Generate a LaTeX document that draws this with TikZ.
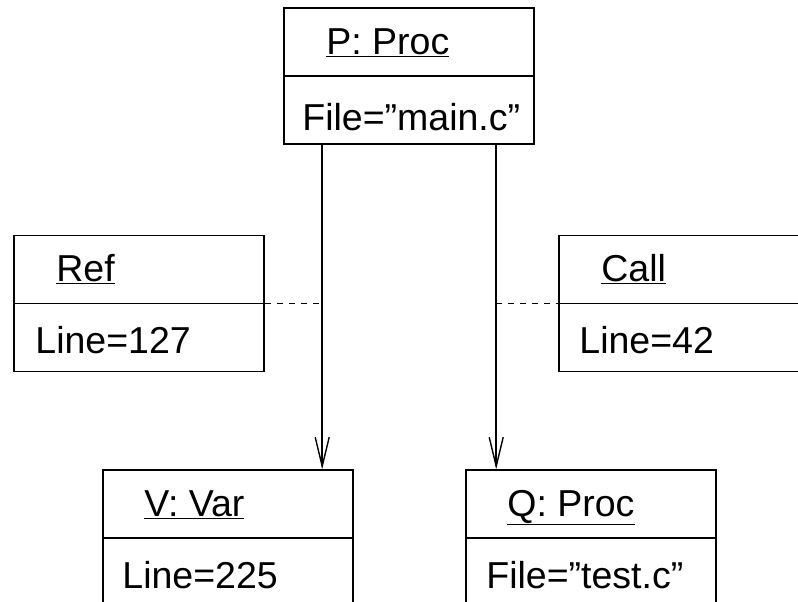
\documentclass[tikz,border=0pt]{standalone}
\usepackage{fontspec}
\setmainfont{Liberation Sans}
\usepackage{tikz}
\usetikzlibrary{calc, arrows.meta}

\tikzset{
    objbox/.style={draw, line width=1.6pt, minimum width=250pt, minimum height=136pt, inner sep=0pt},
    objname/.style={anchor=base west, inner sep=0pt},
    objattr/.style={anchor=base west, inner sep=0pt},
    link/.style={line width=1.5pt, -{Straight Barb[length=29pt, width=14pt, line width=1.4pt]}},
    assoc/.style={line width=0.9pt, dash pattern=on 6pt off 6pt}
}

\begin{document}
\begin{tikzpicture}[x=1pt, y=-1pt, font=\fontsize{37.5}{44}\selectfont]
    \useasboundingbox (0,0) rectangle (798,602);
    \clip (0,0) rectangle (798,602);

    \node[objbox] (P) at (409, 76) {};
    \node[objbox] (R) at (139, 303.5) {};
    \node[objbox] (C) at (684, 303.5) {};
    \node[objbox] (V) at (228, 538) {};
    \node[objbox] (Q) at (591, 538) {};

    \draw[line width=1.6pt] (P.west) -- (P.east);
    \draw[line width=1.6pt] (R.west) -- (R.east);
    \draw[line width=1.6pt] (C.west) -- (C.east);
    \draw[line width=1.6pt] (V.west) -- (V.east);
    \draw[line width=1.6pt] (Q.west) -- (Q.east);

    \node[objname] (Pn) at ($(P.north west)+(43,47)$) {\underline{P: Proc}};
    \node[objattr] (Pa) at ($(P.west)+(19,54)$) {File=”main.c”};
    \node[objname] (Rn) at ($(R.north west)+(43,47)$) {\underline{Ref}};
    \node[objattr] (Ra) at ($(R.west)+(22,50)$) {Line=127};
    \node[objname] (Cn) at ($(C.north west)+(43,47)$) {\underline{Call}};
    \node[objattr] (Ca) at ($(C.west)+(21,50)$) {Line=42};
    \node[objname] (Vn) at ($(V.north west)+(42,47)$) {\underline{V: Var}};
    \node[objattr] (Va) at ($(V.west)+(20,50)$) {Line=225};
    \node[objname] (Qn) at ($(Q.north west)+(42,47)$) {\underline{Q: Proc}};
    \node[objattr] (Qa) at ($(Q.west)+(21,50)$) {File=”test.c”};

    \coordinate (l1) at ($(P.south west)+(39,0)$);
    \coordinate (l2) at ($(P.south west)+(213,0)$);

    \draw[link] (l1) -- (l1 |- V.north);
    \draw[link] (l2) -- (l2 |- Q.north);

    \draw[assoc] (R.east) -- (R.east -| l1);
    \draw[assoc] (l2 |- C.west) -- (C.west);
\end{tikzpicture}
\end{document}
